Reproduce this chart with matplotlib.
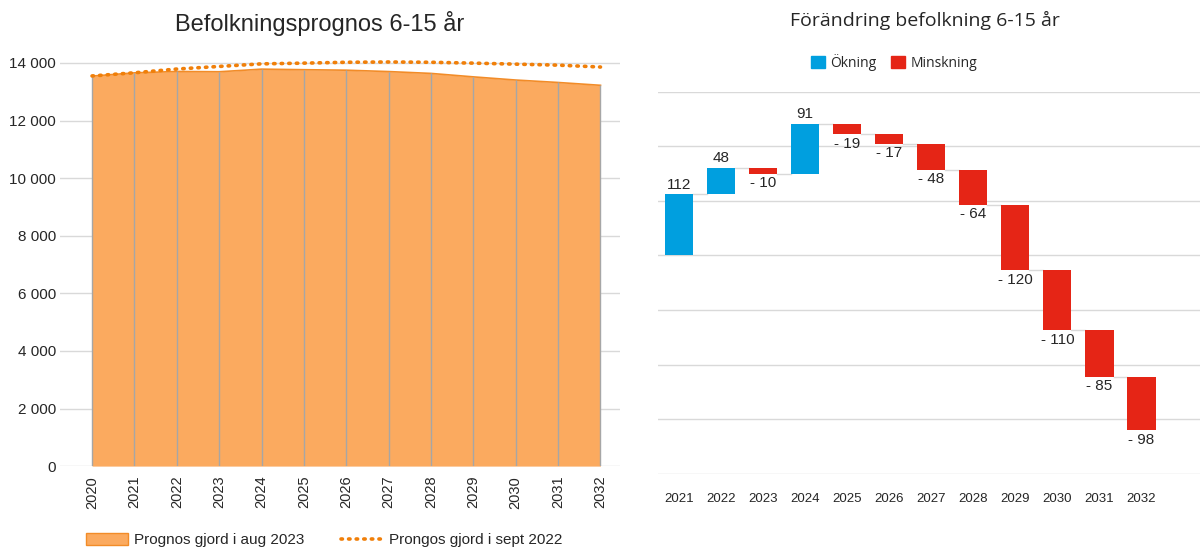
import numpy as np
import matplotlib.pyplot as plt
from matplotlib.patches import Patch
from matplotlib.lines import Line2D

plt.rcParams['font.family'] = ['Liberation Sans', 'DejaVu Sans']

years = [2020, 2021, 2022, 2023, 2024, 2025, 2026, 2027, 2028, 2029, 2030, 2031, 2032]
prognos_2023 = [13545, 13657, 13705, 13695, 13786, 13767, 13750, 13702, 13638, 13518, 13408, 13323, 13225]
prognos_2022 = [13550, 13660, 13790, 13880, 13970, 13995, 14025, 14035, 14025, 13995, 13960, 13925, 13860]

wf_years = ['2021', '2022', '2023', '2024', '2025', '2026', '2027', '2028', '2029', '2030', '2031', '2032']
changes = [112, 48, -10, 91, -19, -17, -48, -64, -120, -110, -85, -98]

orange_fill = '#fbaa5f'
orange_edge = '#f28c28'
orange_dot = '#f07f09'
blue = '#009fdf'
red = '#e52516'
grid_c = '#d9d9d9'
txt = '#262626'
dots = (0, (0.4, 1.7))

fig = plt.figure(figsize=(12, 5.49), dpi=100)

# ---- left: area chart
ax1 = fig.add_axes([0.05, 0.151, 0.467, 0.75])
ax1.fill_between(years, prognos_2023, 0, color=orange_fill, lw=0, zorder=2)
ax1.plot(years, prognos_2023, color=orange_edge, lw=1.2, zorder=3)
ax1.vlines(years, 0, prognos_2023, color='#a6a6a6', lw=1, zorder=3)
ax1.plot(years, prognos_2022, color=orange_dot, lw=2.6, ls=dots,
         dash_capstyle='round', zorder=4)
ax1.set_xlim(2019.244, 2032.47)
ax1.set_ylim(0, 14300)
ax1.set_yticks(range(0, 14001, 2000))
ax1.set_yticklabels(['{:,}'.format(v).replace(',', ' ') for v in range(0, 14001, 2000)])
ax1.set_xticks(years)
ax1.set_xticklabels([str(y) for y in years], rotation=90)
ax1.yaxis.grid(True, color=grid_c, lw=1, zorder=0)
ax1.set_axisbelow(True)
for s in ax1.spines.values():
    s.set_visible(False)
ax1.tick_params(length=0, labelsize=11, colors=txt)
ax1.tick_params(axis='y', pad=3)
ax1.tick_params(axis='x', labelsize=10.5, pad=7)
fig.text(0.266, 0.958, 'Befolkningsprognos 6-15 år', ha='center', va='center', fontsize=17, color=txt)

leg1 = [Patch(facecolor=orange_fill, edgecolor=orange_edge, label='Prognos gjord i aug 2023'),
        Line2D([0], [0], color=orange_dot, lw=2.6, ls=dots,
               dash_capstyle='round', label='Prongos gjord i sept 2022')]
fig.legend(handles=leg1, loc='center', bbox_to_anchor=(0.27, 0.016), ncol=2,
           frameon=False, fontsize=11, handlelength=2.8, handleheight=0.8,
           handletextpad=0.35, columnspacing=2.4, labelcolor=txt)

# ---- right: waterfall
ax2 = fig.add_axes([0.548, 0.137, 0.452, 0.696])
base = prognos_2023[0]
ends = base + np.cumsum(changes)
starts = ends - np.array(changes)
x = np.arange(len(changes))
w = 0.67
bottoms = np.minimum(starts, ends)
heights = np.abs(changes)
cols = [blue if c > 0 else red for c in changes]
ax2.bar(x, heights, bottom=bottoms, width=w, color=cols, zorder=3)
for i in range(len(changes) - 1):
    ax2.plot([x[i] + w / 2, x[i + 1] - w / 2], [ends[i], ends[i]], color=grid_c, lw=1, zorder=2)
for i, c in enumerate(changes):
    if c > 0:
        ax2.text(x[i], ends[i] + 5, str(c), ha='center', va='bottom', fontsize=11, color=txt)
    else:
        ax2.text(x[i], ends[i] - 5, '- {}'.format(-c), ha='center', va='top', fontsize=11, color=txt)
ax2.set_xlim(-0.5, 12.39)
ax2.set_ylim(base - 400, base + 300)
ax2.set_yticks(base - 400 + np.arange(0, 701, 100))
ax2.set_yticklabels([])
ax2.yaxis.grid(True, color=grid_c, lw=1, zorder=0)
ax2.set_axisbelow(True)
ax2.set_xticks(x)
ax2.set_xticklabels(wf_years)
for s in ax2.spines.values():
    s.set_visible(False)
ax2.tick_params(length=0, labelsize=9.5, colors=txt)
ax2.tick_params(axis='x', pad=14)
fig.text(0.771, 0.962, 'Förändring befolkning 6-15 år', ha='center', va='center',
         fontsize=14, color=txt, family=['Open Sans', 'DejaVu Sans'])
leg2 = [Patch(color=blue, label='Ökning'), Patch(color=red, label='Minskning')]
fig.legend(handles=leg2, loc='center', bbox_to_anchor=(0.745, 0.887), ncol=2, frameon=False,
           handlelength=1.0, handleheight=1.0, handletextpad=0.4,
           columnspacing=1.0, labelcolor=txt, prop={'family': ['Open Sans', 'DejaVu Sans'], 'size': 10})

fig.savefig('out.png', dpi=100)
